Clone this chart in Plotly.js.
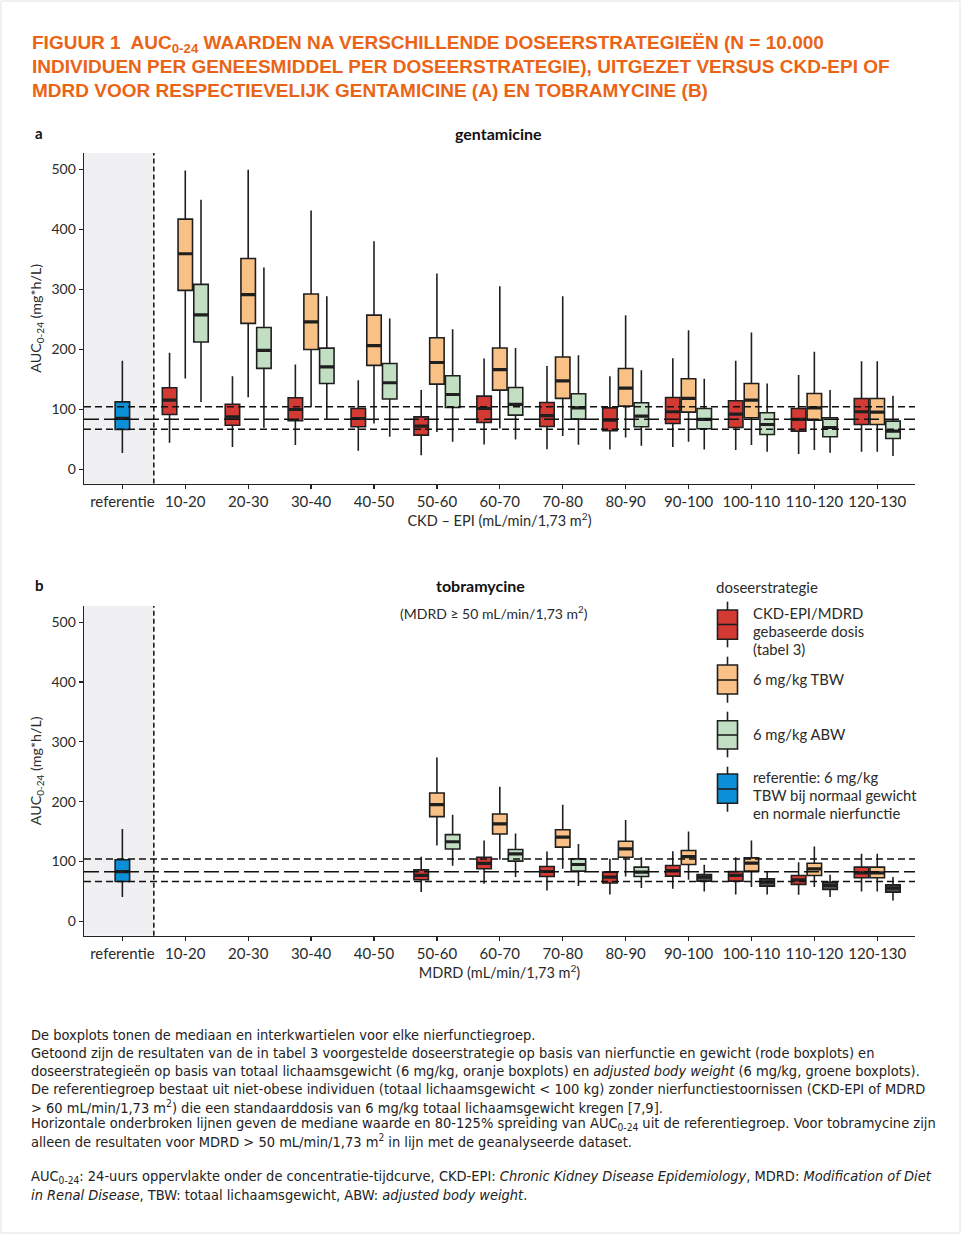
<!DOCTYPE html>
<html>
<head>
<meta charset="utf-8">
<script src="https://cdn.plot.ly/plotly-3.0.1.min.js"></script>
<style>
html,body{margin:0;padding:0;background:#fff;}
#chart{width:962px;height:1237px;}
</style>
</head>
<body>
<div id="chart"></div>
<script>
// ---------------- DATA ----------------
const categories = ['referentie','10-20','20-30','30-40','40-50','50-60','60-70','70-80','80-90','90-100','100-110','110-120','120-130'];

// Gentamicine (panel a), categories 10-20 ... 120-130
const gentaCats = ['10-20','20-30','30-40','40-50','50-60','60-70','70-80','80-90','90-100','100-110','110-120','120-130'];
const gentaRed_low  = [44, 37, 40, 30.6, 23, 41, 33, 32.8, 37, 31.7, 25, 28.9];
const gentaRed_q1   = [91, 73, 80.6, 70.6, 56.7, 77.8, 71, 64, 76, 69.4, 63.3, 74.4];
const gentaRed_med  = [115, 87, 99.4, 84.4, 71.7, 101, 89, 81.7, 95.6, 91.7, 82.8, 95.6];
const gentaRed_q3   = [135.6, 108, 119, 101, 87, 121.7, 111, 102, 119.4, 113.9, 101, 117.8];
const gentaRed_high = [194, 155, 174.5, 148, 131.7, 184.4, 171.7, 155, 185, 180.6, 156.7, 180];

const gentaTBW_low  = [151, 120, 103, 76, 62, 67.8, 55, 52.8, 45.6, 40, 31.7, 28.9];
const gentaTBW_q1   = [298, 243, 199.4, 173, 141.7, 131.7, 118, 105, 95, 85.6, 81.7, 74.4];
const gentaTBW_med  = [359, 291, 245.6, 206, 177.7, 166, 147, 135, 117.8, 115, 102.2, 95];
const gentaTBW_q3   = [416.7, 351, 292, 256.7, 219, 202, 187, 167.8, 150.6, 142.8, 126, 117.8];
const gentaTBW_high = [498, 499, 431, 380, 326, 305, 288, 256.7, 231.7, 227.8, 195.6, 180];

const gentaABW_low  = [112, 69, 84, 54, 45.6, 49.4, 40.6, 39, 32.8, 28.9, 27.2, 21.7];
const gentaABW_q1   = [212, 168, 142.8, 117, 102.8, 90, 83.3, 70.6, 67.2, 57.8, 53.9, 51];
const gentaABW_med  = [257, 198, 170.6, 144, 124.4, 108, 102, 88.3, 82.8, 74.4, 69.4, 63.3];
const gentaABW_q3   = [308, 236, 201.7, 176, 155.6, 136, 125.6, 110.6, 101, 93.9, 85.6, 80];
const gentaABW_high = [449, 336, 288, 251, 233, 202, 190, 165, 150.6, 142.8, 131.7, 122.2];

const gentaRef = {low: 27, q1: 66, med: 84.5, q3: 112, high: 180.5};
const gentaRefLines = [66.4, 83, 103.75];   // 80%, median, 125%

// Tobramycine (panel b), categories 50-60 ... 120-130
const tobraCats = ['50-60','60-70','70-80','80-90','90-100','100-110','110-120','120-130'];
const tobraRed_low  = [49, 62.8, 51.7, 45, 54.4, 45, 44.4, 50];
const tobraRed_q1   = [69.4, 87.8, 75, 64, 75.6, 67.2, 61.7, 72.8];
const tobraRed_med  = [76.7, 97, 83.3, 74, 85, 76.7, 69.4, 81];
const tobraRed_q3   = [86, 107, 91.7, 82.2, 93.3, 83.3, 76.7, 90.6];
const tobraRed_high = [108, 135, 116.7, 104.4, 117.2, 107.2, 98.9, 112.8];

const tobraTBW_low  = [126.7, 102.8, 87.8, 75, 69.4, 57.2, 57.2, 50];
const tobraTBW_q1   = [175, 146, 124, 107.2, 95, 84, 76.7, 72.8];
const tobraTBW_med  = [195, 162.8, 140.6, 121, 108.3, 97.2, 87.8, 81];
const tobraTBW_q3   = [214.4, 179.4, 153, 133.9, 118.3, 106, 97.2, 90.6];
const tobraTBW_high = [274, 225, 195, 169.4, 150, 135, 125, 112.8];

const tobraABW_low  = [93, 74, 58.9, 55.6, 50, 45, 40.6, 35];
const tobraABW_q1   = [121, 100.6, 83.9, 75, 67.2, 58.9, 53.3, 48.9];
const tobraABW_med  = [133, 112.8, 95, 82.2, 74, 65.6, 60, 55.6];
const tobraABW_q3   = [145, 120, 104.4, 90.6, 78.3, 71, 65.6, 61];
const tobraABW_high = [178, 147, 129.4, 107.2, 94.4, 83.3, 77.8, 74];

const tobraRef = {low: 40.5, q1: 66.7, med: 83, q3: 103, high: 154.4};
const tobraRefLines = [66.7, 83, 104];

const yTicks = [0, 100, 200, 300, 400, 500];

// ---------------- STYLE ----------------
const W = 962, H = 1237;
const PX = v => v / W;
const PY = v => 1 - v / H;
const COL = {red:'#d43a34', tbw:'#f9c185', abw:'#c3dfc3', abwDark:'#4d524d', ref:'#0b8fd6', line:'#1f1f1f'};
const offsets = {red:-0.25, tbw:0, abw:0.25};
const BOXW = 0.23;
const darkAbwCats = ['90-100','100-110','110-120','120-130']; // rendered dark in panel b
const FONT = 'Lato, "Open Sans", sans-serif';
const TXT = '#2a2a2a';

function idx(c){ return categories.indexOf(c); }

const traces = [];
function addBox(cats, off, low, q1, med, q3, high, fill, ax){
  const xs = cats.map(c => idx(c) + off);
  traces.push({type:'box', x: xs, q1: q1, median: med, q3: q3, lowerfence: low, upperfence: high,
    fillcolor: fill, line:{color: COL.line, width: 1.6}, whiskerwidth: 0, width: BOXW,
    boxpoints: false, hoverinfo: 'skip', showlegend: false, xaxis: ax.x, yaxis: ax.y});
  // thicker median bar
  traces.push({type:'box', x: xs, q1: med, median: med, q3: med, lowerfence: med, upperfence: med,
    fillcolor: 'rgba(0,0,0,0)', line:{color: COL.line, width: 3.2}, whiskerwidth: 0, width: BOXW,
    boxpoints: false, hoverinfo: 'skip', showlegend: false, xaxis: ax.x, yaxis: ax.y});
}
function subset(cats, keep, arr){ return arr.filter((v,i) => keep(cats[i])); }

const axA = {x:'x', y:'y'}, axB = {x:'x2', y:'y2'};
addBox(['referentie'], 0, [gentaRef.low], [gentaRef.q1], [gentaRef.med], [gentaRef.q3], [gentaRef.high], COL.ref, axA);
addBox(gentaCats, offsets.red, gentaRed_low, gentaRed_q1, gentaRed_med, gentaRed_q3, gentaRed_high, COL.red, axA);
addBox(gentaCats, offsets.tbw, gentaTBW_low, gentaTBW_q1, gentaTBW_med, gentaTBW_q3, gentaTBW_high, COL.tbw, axA);
addBox(gentaCats, offsets.abw, gentaABW_low, gentaABW_q1, gentaABW_med, gentaABW_q3, gentaABW_high, COL.abw, axA);

addBox(['referentie'], 0, [tobraRef.low], [tobraRef.q1], [tobraRef.med], [tobraRef.q3], [tobraRef.high], COL.ref, axB);
addBox(tobraCats, offsets.red, tobraRed_low, tobraRed_q1, tobraRed_med, tobraRed_q3, tobraRed_high, COL.red, axB);
addBox(tobraCats, offsets.tbw, tobraTBW_low, tobraTBW_q1, tobraTBW_med, tobraTBW_q3, tobraTBW_high, COL.tbw, axB);
[[c => !darkAbwCats.includes(c), COL.abw], [c => darkAbwCats.includes(c), COL.abwDark]].forEach(([keep, fill]) => {
  const s = a => subset(tobraCats, keep, a);
  addBox(tobraCats.filter(keep), offsets.abw, s(tobraABW_low), s(tobraABW_q1), s(tobraABW_med), s(tobraABW_q3), s(tobraABW_high), fill, axB);
});

const xRange = [-0.61, 12.6];
const yRange = [-24, 527];
function xAxis(domain, title){
  return {domain: domain, range: xRange, tickvals: categories.map((c,i)=>i), ticktext: categories,
    showline: true, linecolor: '#222', linewidth: 1.4, ticks: 'outside', ticklen: 4, tickcolor: '#222', tickwidth: 1.2,
    showgrid: false, zeroline: false, fixedrange: true, automargin: false,
    tickfont: {size: 15, color: TXT, family: FONT},
    title: {text: title, font: {size: 14.5, color: TXT, family: FONT}, standoff: 0}};
}
function yAxis(domain){
  return {domain: domain, range: yRange, tickvals: yTicks, showline: true, linecolor: '#222', linewidth: 1.4,
    ticks: 'outside', ticklen: 4, tickcolor: '#222', tickwidth: 1.2, showgrid: false, zeroline: false,
    fixedrange: true, automargin: false, tickfont: {size: 14, color: TXT, family: FONT},
    title: {text: 'AUC<sub>0-24</sub> (mg*h/L)', font: {size: 14.3, color: TXT, family: FONT}, standoff: 6}};
}

const shapes = [];
function panelShapes(xr, yr, refLines){
  shapes.push({type:'rect', xref: xr, yref: yr + ' domain', x0: xRange[0], x1: 0.5, y0: 0, y1: 1,
    fillcolor: '#f0f0f3', line: {width: 0}, layer: 'below'});
  shapes.push({type:'line', xref: xr, yref: yr + ' domain', x0: 0.5, x1: 0.5, y0: 0, y1: 1,
    line: {color: '#111', width: 1.5, dash: '5px,3px'}});
  refLines.forEach((v, i) => {
    shapes.push({type:'line', xref: xr, yref: yr, x0: xRange[0], x1: xRange[1], y0: v, y1: v,
      line: {color: '#111', width: 1.5, dash: i === 1 ? '15px,5px' : '7px,4px'}});
  });
}
panelShapes('x', 'y', gentaRefLines);
panelShapes('x2', 'y2', tobraRefLines);

// page frame
shapes.push({type:'rect', xref:'paper', yref:'paper', x0: PX(1), x1: PX(960), y0: PY(1233), y1: PY(1),
  line: {color: '#e2e2e2', width: 1}, fillcolor: 'rgba(0,0,0,0)'});

const annotations = [];
function txt(text, x, y, opts){
  annotations.push(Object.assign({text: text, x: PX(x), y: PY(y), xref:'paper', yref:'paper',
    showarrow: false, xanchor: 'left', yanchor: 'middle', align: 'left',
    font: {size: 13, color: TXT, family: FONT}}, opts || {}));
}
// figure title (three lines)
const TITLE_FONT = {size: 19, color: '#eb6416', family: '"Liberation Sans Narrow", "Arial Narrow", "Liberation Sans", sans-serif', weight: 'bold'};
txt('FIGUUR 1  AUC<sub>0-24</sub> WAARDEN NA VERSCHILLENDE DOSEERSTRATEGIEËN (N = 10.000', 30, 44, {font: TITLE_FONT});
txt('INDIVIDUEN PER GENEESMIDDEL PER DOSEERSTRATEGIE), UITGEZET VERSUS CKD-EPI OF', 30, 67, {font: TITLE_FONT});
txt('MDRD VOOR RESPECTIEVELIJK GENTAMICINE (A) EN TOBRAMYCINE (B)', 30, 90, {font: TITLE_FONT});

txt('<b>a</b>', 33, 133, {font:{size:15, color:'#111', family: FONT}});
txt('<b>gentamicine</b>', 498, 133, {xanchor:'center', font:{size:16, color:'#111', family: FONT}});
txt('<b>b</b>', 33, 585, {font:{size:15, color:'#111', family: FONT}});
txt('<b>tobramycine</b>', 480, 586, {xanchor:'center', font:{size:16, color:'#111', family: FONT}});
txt('(MDRD ≥ 50 mL/min/1,73 m<sup>2</sup>)', 494, 612, {xanchor:'center', font:{size:14, color: TXT, family: FONT}});

// legend
txt('doseerstrategie', 714, 587, {font:{size:15, color: TXT, family: FONT}});
const legendItems = [
  {fill: COL.red, y: [601.7, 610, 624.5, 639.3, 647.3], lines: ['CKD-EPI/MDRD','gebaseerde dosis','(tabel 3)'], ty: 612.7},
  {fill: COL.tbw, y: [656.7, 665, 680, 694, 702.7], lines: ['6 mg/kg TBW'], ty: 679},
  {fill: COL.abw, y: [711.7, 720.7, 735, 749, 757.3], lines: ['6 mg/kg ABW'], ty: 734},
  {fill: COL.ref, y: [766.7, 774, 789, 803.3, 811.7], lines: ['referentie: 6 mg/kg','TBW bij normaal gewicht','en normale nierfunctie'], ty: 776.7}
];
legendItems.forEach(it => {
  const cx = 727.5, hw = 10;
  shapes.push({type:'line', xref:'paper', yref:'paper', x0: PX(cx), x1: PX(cx), y0: PY(it.y[0]), y1: PY(it.y[4]), line:{color: COL.line, width: 1.6}});
  shapes.push({type:'rect', xref:'paper', yref:'paper', x0: PX(cx-hw), x1: PX(cx+hw), y0: PY(it.y[3]), y1: PY(it.y[1]), fillcolor: it.fill, line:{color: COL.line, width: 1.6}});
  shapes.push({type:'line', xref:'paper', yref:'paper', x0: PX(cx-hw), x1: PX(cx+hw), y0: PY(it.y[2]), y1: PY(it.y[2]), line:{color: COL.line, width: 1.6}});
  it.lines.forEach((l, k) => txt(l, 751, it.ty + k * 18, {font:{size:14.8, color: TXT, family: FONT}}));
});

// footnote
const NOTE_FONT = '"Liberation Sans Narrow", "Arial Narrow", "DejaVu Sans Condensed", sans-serif';
const notes = [
  ['De boxplots tonen de mediaan en interkwartielen voor elke nierfunctiegroep.', 1035],
  ['Getoond zijn de resultaten van de in tabel 3 voorgestelde doseerstrategie op basis van nierfunctie en gewicht (rode boxplots) en', 1053],
  ['doseerstrategieën op basis van totaal lichaamsgewicht (6 mg/kg, oranje boxplots) en <i>adjusted body weight</i> (6 mg/kg, groene boxplots).', 1071],
  ['De referentiegroep bestaat uit niet-obese individuen (totaal lichaamsgewicht &lt; 100 kg) zonder nierfunctiestoornissen (CKD-EPI of MDRD', 1089],
  ['&gt; 60 mL/min/1,73 m<sup>2</sup>) die een standaarddosis van 6 mg/kg totaal lichaamsgewicht kregen [7,9].', 1107],
  ['Horizontale onderbroken lijnen geven de mediane waarde en 80-125% spreiding van AUC<sub>0-24</sub> uit de referentiegroep. Voor tobramycine zijn', 1124],
  ['alleen de resultaten voor MDRD &gt; 50 mL/min/1,73 m<sup>2</sup> in lijn met de geanalyseerde dataset.', 1141],
  ['AUC<sub>0-24</sub>: 24-uurs oppervlakte onder de concentratie-tijdcurve, CKD-EPI: <i>Chronic Kidney Disease Epidemiology</i>, MDRD: <i>Modification of Diet</i>', 1177],
  ['<i>in Renal Disease</i>, TBW: totaal lichaamsgewicht, ABW: <i>adjusted body weight</i>.', 1195]
];
notes.forEach(n => txt(n[0], 29, n[1], {font:{size:14.5, color:'#222', family: NOTE_FONT}}));

const layout = {
  width: W, height: H, margin: {l:0, r:0, t:0, b:0}, paper_bgcolor: '#fff', plot_bgcolor: 'rgba(0,0,0,0)',
  showlegend: false, boxmode: 'overlay', font: {family: FONT, color: TXT},
  xaxis: xAxis([PX(84), PX(915)], 'CKD – EPI (mL/min/1,73 m<sup>2</sup>)'),
  yaxis: yAxis([PY(483.5), PY(153)]),
  xaxis2: Object.assign(xAxis([PX(84), PX(915)], 'MDRD (mL/min/1,73 m<sup>2</sup>)'), {anchor: 'y2'}),
  yaxis2: Object.assign(yAxis([PY(935.7), PY(606)]), {anchor: 'x2'}),
  shapes: shapes, annotations: annotations
};
layout.xaxis.anchor = 'y';
layout.yaxis.anchor = 'x';

Plotly.newPlot('chart', traces, layout, {staticPlot: true, displayModeBar: false});
</script>
</body>
</html>
